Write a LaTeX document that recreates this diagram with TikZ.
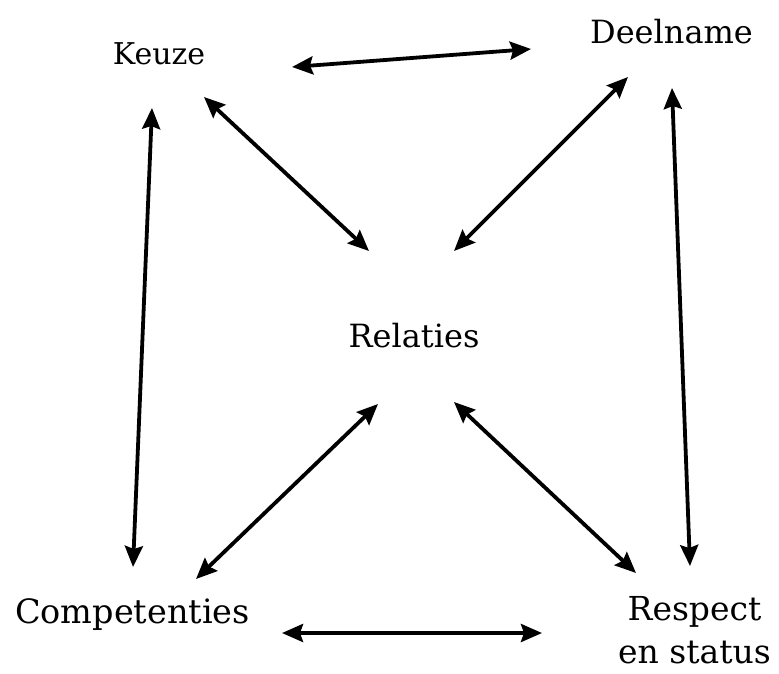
\documentclass[tikz,border=0pt]{standalone}
\usepackage{fontspec}
\setmainfont{DejaVu Serif}
\usetikzlibrary{arrows.meta}
\begin{document}
\begin{tikzpicture}[x=1pt,y=-1pt,
  lbl/.style={inner sep=0pt,anchor=base},
  link/.style={line width=3.8pt,{Stealth[length=21pt,width=18pt,inset=3pt]}-{Stealth[length=21pt,width=18pt,inset=3pt]}}]
\useasboundingbox (0,0) rectangle (779,673);
\node[lbl,font=\fontsize{30}{34}\selectfont] (keuze) at (159,64) {Keuze};
\node[lbl,font=\fontsize{32}{36}\selectfont] (deelname) at (671.5,43) {Deelname};
\node[lbl,font=\fontsize{32}{36}\selectfont] (relaties) at (414,347) {Relaties};
\node[lbl,font=\fontsize{33.5}{38}\selectfont] (comp) at (132.5,623) {Competenties};
\node[lbl,font=\fontsize{33}{38}\selectfont] (resp) at (694.5,620) {Respect};
\node[lbl,font=\fontsize{33}{38}\selectfont] (status) at (694.5,663) {en status};
% connector ends
\coordinate (kd1) at (292,67);  \coordinate (kd2) at (531,49);
\coordinate (kr1) at (204,97);  \coordinate (kr2) at (369,251);
\coordinate (dr1) at (628,77);  \coordinate (dr2) at (454,251);
\coordinate (kc1) at (152,108); \coordinate (kc2) at (133,567);
\coordinate (ds1) at (672,88);  \coordinate (ds2) at (690,566);
\coordinate (rc1) at (378,404); \coordinate (rc2) at (196,579);
\coordinate (rs1) at (454,402); \coordinate (rs2) at (636,573);
\coordinate (cs1) at (282,633); \coordinate (cs2) at (542,633);
\draw[link] (kd1) -- (kd2);
\draw[link] (kr1) -- (kr2);
\draw[link] (dr1) -- (dr2);
\draw[link] (kc1) -- (kc2);
\draw[link] (ds1) -- (ds2);
\draw[link] (rc1) -- (rc2);
\draw[link] (rs1) -- (rs2);
\draw[link] (cs1) -- (cs2);
\end{tikzpicture}
\end{document}
